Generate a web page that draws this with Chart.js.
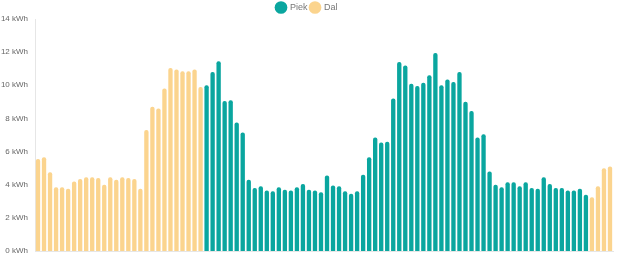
<!DOCTYPE html>
<html>
<head>
<meta charset="utf-8">
<script src="https://cdn.jsdelivr.net/npm/chart.js@4/dist/chart.umd.min.js"></script>
<style>
    html, body { margin: 0; padding: 0; background: #fff; }
    #wrap { width: 618px; height: 260px; }
</style>
</head>
<body>
<div id="wrap"><canvas id="usageChart"></canvas></div>
<script>
// Kwartierwaarden (96 per dag), in kWh
const dalNacht = [5.55, 5.65, 4.75, 3.85, 3.85, 3.75, 4.2, 4.35, 4.45, 4.45, 4.4, 4.0, 4.45, 4.3,
                  4.45, 4.4, 4.35, 3.75, 7.3, 8.7, 8.6, 9.8, 11.05, 10.95, 10.85, 10.85, 10.95, 9.9];
const piekDag = [10.0, 10.8, 11.45, 9.05, 9.1, 7.75, 7.15, 4.3, 3.8, 3.9, 3.65, 3.6, 3.85, 3.7,
                 3.65, 3.85, 4.05, 3.7, 3.65, 3.55, 4.55, 3.95, 3.9, 3.6, 3.45, 3.6, 4.6, 5.65,
                 6.85, 6.55, 6.6, 9.2, 11.4, 11.2, 10.1, 9.95, 10.15, 10.6, 11.95, 10.0, 10.35, 10.2,
                 10.8, 9.0, 8.45, 6.85, 7.05, 4.8, 4.0, 3.85, 4.15, 4.15, 3.9, 4.15, 3.8, 3.75,
                 4.45, 4.05, 3.8, 3.8, 3.65, 3.65, 3.75, 3.4];
const dalAvond = [3.25, 3.9, 5.0, 5.1];

const yTicks = [0, 2, 4, 6, 8, 10, 12, 14];

const TEAL = '#0aa69f';
const ORANGE = '#fbd48e';

// Labels 00:00 .. 23:45
const labels = [];
for (let i = 0; i < 96; i++) {
    const h = String(Math.floor(i / 4)).padStart(2, '0');
    const m = String((i % 4) * 15).padStart(2, '0');
    labels.push(h + ':' + m);
}

const piekData = labels.map((_, i) => (i >= 28 && i < 92) ? piekDag[i - 28] : null);
const dalData = labels.map((_, i) => i < 28 ? dalNacht[i] : (i >= 92 ? dalAvond[i - 92] : null));

// Vaste legendahoogte zodat het grafiekvlak op dezelfde plek begint
const legendHeight = {
    id: 'legendHeight',
    beforeInit(chart) {
        const fit = chart.legend.fit;
        chart.legend.fit = function() {
            fit.call(this);
            this.height = 19;
        };
    }
};

new Chart(document.getElementById('usageChart').getContext('2d'), {
    type: 'bar',
    data: {
        labels: labels,
        datasets: [
            {
                label: 'Piek',
                data: piekData,
                backgroundColor: TEAL,
                borderRadius: 2,
                borderSkipped: 'bottom'
            },
            {
                label: 'Dal',
                data: dalData,
                backgroundColor: ORANGE,
                borderRadius: 2,
                borderSkipped: 'bottom'
            }
        ]
    },
    options: {
        responsive: true,
        maintainAspectRatio: false,
        animation: false,
        layout: {
            padding: { left: 1, right: 5, top: 0, bottom: 9 }
        },
        plugins: {
            legend: {
                display: true,
                position: 'top',
                labels: {
                    usePointStyle: true,
                    pointStyle: 'circle',
                    boxWidth: 11,
                    boxHeight: 11,
                    padding: 3,
                    color: '#777',
                    font: { family: 'Liberation Sans, Arial, sans-serif', size: 9 }
                }
            },
            tooltip: { enabled: false }
        },
        scales: {
            x: {
                stacked: true,
                grid: { display: false, drawTicks: false },
                border: { display: true, color: '#e6e6e6' },
                ticks: { display: false },
                afterFit: axis => { axis.height = 0; }
            },
            y: {
                stacked: true,
                min: 0,
                max: 14,
                afterBuildTicks: axis => {
                    axis.ticks = yTicks.map(v => ({ value: v }));
                },
                afterFit: axis => {
                    axis.width = 34;
                    axis.paddingTop = 0;
                    axis.paddingBottom = 0;
                },
                grid: { display: false, drawTicks: false },
                border: { display: true, color: '#e6e6e6' },
                ticks: {
                    color: '#666',
                    padding: 7,
                    font: { family: 'Liberation Sans, Arial, sans-serif', size: 8 },
                    callback: value => value + ' kWh'
                }
            }
        }
    },
    plugins: [legendHeight]
});
</script>
</body>
</html>
